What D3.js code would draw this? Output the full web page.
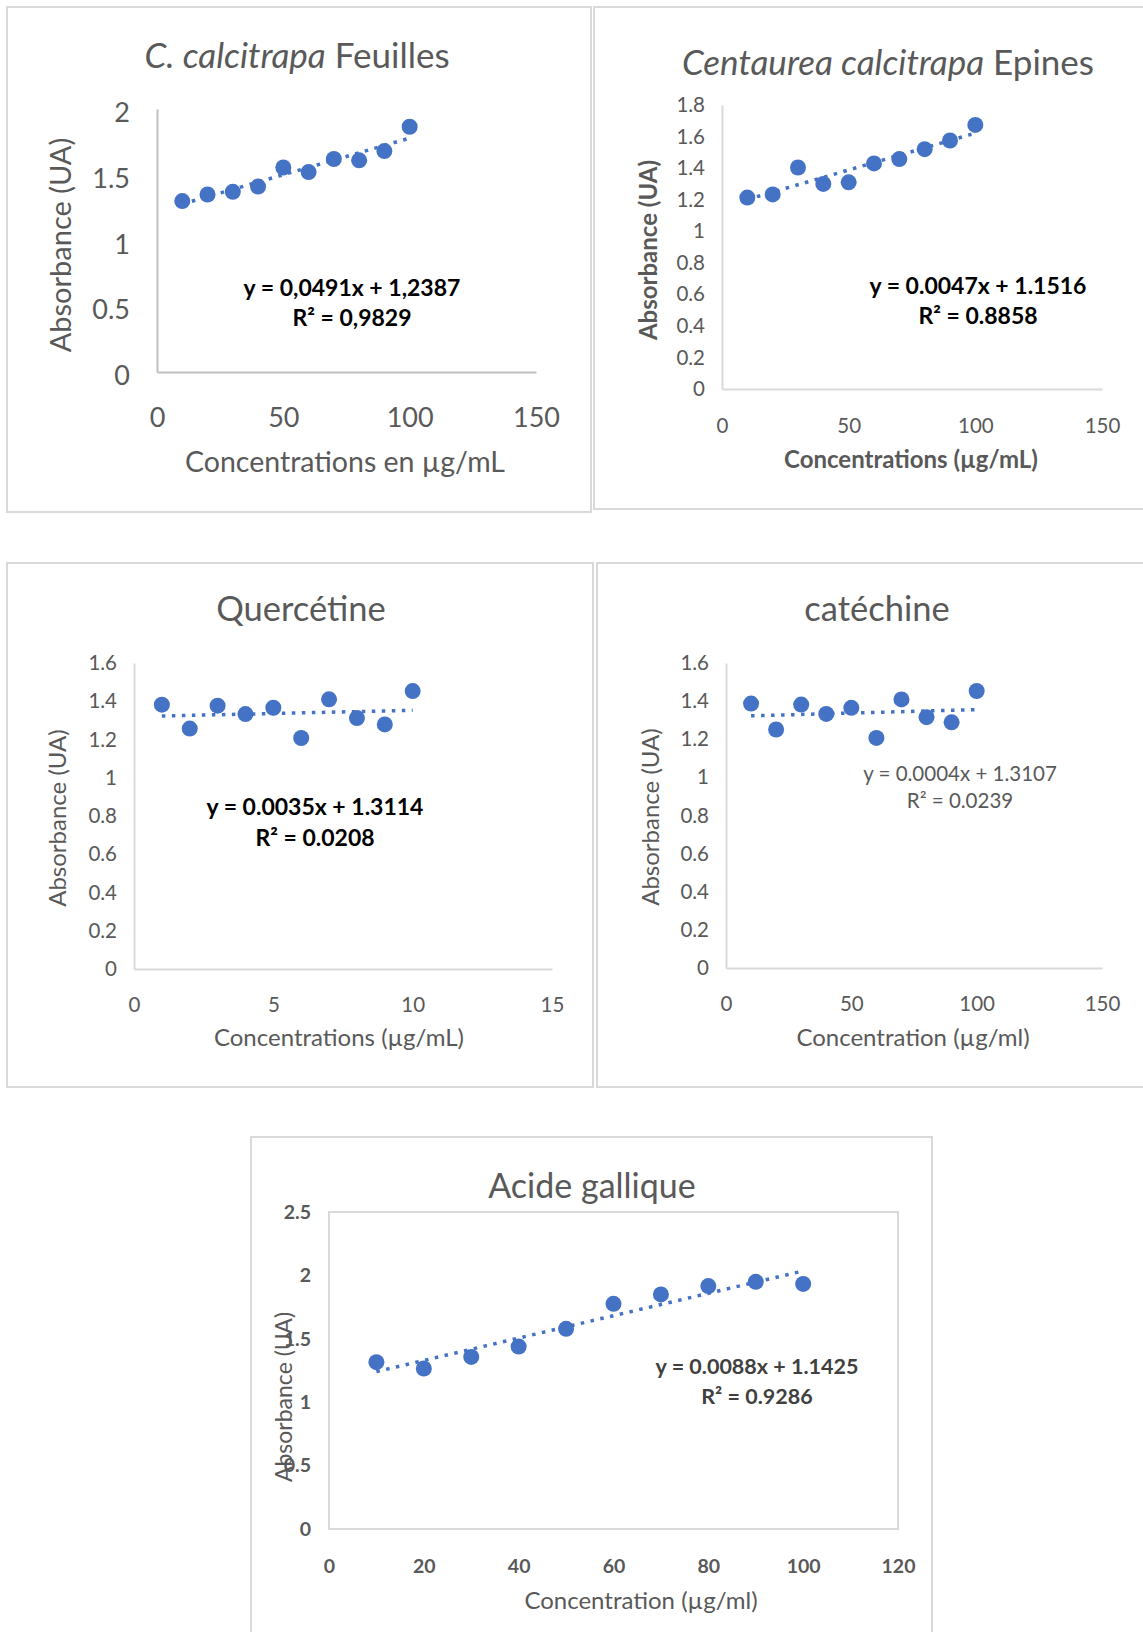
<!DOCTYPE html>
<html><head><meta charset="utf-8">
<script src="https://cdn.jsdelivr.net/npm/d3@7"></script>
<style>
html,body{margin:0;padding:0;background:#fff;}
svg{display:block;}
text{font-family:Lato,"Open Sans",sans-serif;}
</style></head>
<body>
<script>
// ---------- DATA ----------
const feuillesX = [10,20,30,40,50,60,70,80,90,100];
const feuillesY = [1.30,1.35,1.37,1.41,1.555,1.52,1.62,1.61,1.68,1.865];
const feuillesYTicks = [0,0.5,1,1.5,2];
const feuillesXTicks = [0,50,100,150];

const epinesX = [10,20,30,40,50,60,70,80,90,100];
const epinesY = [1.213,1.233,1.404,1.30,1.31,1.43,1.457,1.52,1.575,1.674];
const epinesYTicks = [0,0.2,0.4,0.6,0.8,1,1.2,1.4,1.6,1.8];
const epinesXTicks = [0,50,100,150];

const quercetineX = [1,2,3,4,5,6,7,8,9,10];
const quercetineY = [1.382,1.257,1.377,1.333,1.366,1.208,1.41,1.312,1.279,1.453];
const quercetineYTicks = [0,0.2,0.4,0.6,0.8,1,1.2,1.4,1.6];
const quercetineXTicks = [0,5,10,15];

const catechineX = [10,20,30,40,50,60,70,80,90,100];
const catechineY = [1.387,1.251,1.382,1.333,1.365,1.207,1.409,1.316,1.289,1.453];
const catechineYTicks = [0,0.2,0.4,0.6,0.8,1,1.2,1.4,1.6];
const catechineXTicks = [0,50,100,150];

const galliqueX = [10,20,30,40,50,60,70,80,90,100];
const galliqueY = [1.316,1.266,1.357,1.439,1.579,1.776,1.850,1.916,1.949,1.933];
const galliqueYTicks = [0,0.5,1,1.5,2,2.5];
const galliqueXTicks = [0,20,40,60,80,100,120];

const titles = {
  feuilles: [["C. calcitrapa", true], [" Feuilles", false]],
  epines: [["Centaurea calcitrapa", true], [" Epines", false]],
  quercetine: [["Quercétine", false]],
  catechine: [["catéchine", false]],
  gallique: [["Acide gallique", false]]
};
const xTitles = {
  feuilles: "Concentrations en µg/mL",
  epines: "Concentrations (µg/mL)",
  quercetine: "Concentrations (µg/mL)",
  catechine: "Concentration (µg/ml)",
  gallique: "Concentration (µg/ml)"
};
const yTitle = "Absorbance (UA)";
const equations = {
  feuilles: ["y = 0,0491x + 1,2387", "R² = 0,9829"],
  epines: ["y = 0.0047x + 1.1516", "R² = 0.8858"],
  quercetine: ["y = 0.0035x + 1.3114", "R² = 0.0208"],
  catechine: ["y = 0.0004x + 1.3107", "R² = 0.0239"],
  gallique: ["y = 0.0088x + 1.1425", "R² = 0.9286"]
};

// ---------- DRAW ----------
const svg = d3.select("body").append("svg").attr("width",1143).attr("height",1632);
const BLUE = "#4472C4", GREY = "#595959", BORDER = "#d9d9d9";

function linreg(xs, ys){
  const n = xs.length, mx = d3.mean(xs), my = d3.mean(ys);
  let sxy=0,sxx=0;
  for(let i=0;i<n;i++){ sxy+=(xs[i]-mx)*(ys[i]-my); sxx+=(xs[i]-mx)**2; }
  const b = sxy/sxx; return {b, a: my-b*mx};
}

function panel(o){
  const g = svg.append("g");
  g.append("rect").attr("x",o.box[0]).attr("y",o.box[1]).attr("width",o.box[2]-o.box[0]).attr("height",o.box[3]-o.box[1])
    .attr("fill","#fff").attr("stroke",BORDER).attr("stroke-width",2);
  const x = d3.scaleLinear().domain(d3.extent(o.xTicks)).range([o.plot[0],o.plot[2]]);
  const y = d3.scaleLinear().domain(d3.extent(o.yTicks)).range([o.plot[3],o.plot[1]]);
  if(o.plotBorder){
    g.append("rect").attr("x",o.plot[0]).attr("y",o.plot[1]).attr("width",o.plot[2]-o.plot[0]).attr("height",o.plot[3]-o.plot[1])
      .attr("fill","none").attr("stroke",BORDER).attr("stroke-width",2);
  }
  const xa = g.append("g").attr("transform",`translate(0,${o.plot[3]})`)
    .call(d3.axisBottom(x).tickValues(o.xTicks).tickSize(0).tickPadding(o.xPad).tickFormat(d3.format("")));
  const ya = g.append("g").attr("transform",`translate(${o.plot[0]},0)`)
    .call(d3.axisLeft(y).tickValues(o.yTicks).tickSize(0).tickPadding(o.yPad).tickFormat(d=>String(d)));
  [xa,ya].forEach(a=>{
    a.select(".domain").attr("stroke",o.axisColor||BORDER).attr("stroke-width",2);
    a.selectAll("text").attr("fill",GREY).style("font-size",o.tickSize+"px")
      .style("font-weight",o.tickBold?"bold":"normal").style("font-family","Lato, sans-serif");
  });
  xa.selectAll("text").attr("dy","0.35em");
  if(o.yLabelShift) ya.selectAll("text").attr("y",o.yLabelShift);
  if(o.plotBorder){ xa.select(".domain").remove(); ya.select(".domain").remove(); }
  const t = g.append("text").attr("x",o.title[0]).attr("y",o.title[1]).attr("text-anchor","middle")
    .attr("dominant-baseline","middle").attr("fill",GREY).style("font-size",o.titleSize+"px");
  o.titleParts.forEach(p=>t.append("tspan").text(p[0]).style("font-style",p[1]?"italic":"normal"));
  g.append("text").attr("x",o.xt[0]).attr("y",o.xt[1]).attr("text-anchor","middle").attr("dominant-baseline","middle")
    .attr("fill",GREY).style("font-size",o.xtSize+"px").style("font-weight",o.xtBold?"bold":"normal").text(o.xTitle);
  g.append("text").attr("transform",`translate(${o.yt[0]},${o.yt[1]}) rotate(-90)`).attr("text-anchor","middle")
    .attr("dominant-baseline","middle").attr("fill",GREY).style("font-size",o.ytSize+"px")
    .style("font-weight",o.ytBold?"bold":"normal").text(yTitle);
  const r = linreg(o.xs,o.ys), x0=d3.min(o.xs), x1=d3.max(o.xs);
  g.append("line").attr("x1",x(x0)).attr("y1",y(r.a+r.b*x0)).attr("x2",x(x1)).attr("y2",y(r.a+r.b*x1))
    .attr("stroke",BLUE).attr("stroke-width",3.5).attr("stroke-dasharray","3.5,6.5");
  g.selectAll("circle.pt").data(o.xs.map((v,i)=>[v,o.ys[i]])).join("circle").attr("class","pt")
    .attr("cx",d=>x(d[0])).attr("cy",d=>y(d[1])).attr("r",o.r||8).attr("fill",BLUE);
  o.eq.forEach((line,i)=>{
    g.append("text").attr("x",o.eqPos[0]).attr("y",o.eqPos[1]+i*o.eqGap).attr("text-anchor","middle")
      .attr("dominant-baseline","middle").attr("fill",o.eqColor).style("font-size",o.eqSize+"px")
      .style("font-weight",o.eqBold?"bold":"normal").text(line);
  });
}

panel({box:[7,7,591,512], plot:[157,109,536,372], xTicks:feuillesXTicks, yTicks:feuillesYTicks,
  xs:feuillesX, ys:feuillesY, tickSize:27, xPad:46, yPad:27, axisColor:"#bfbfbf", yLabelShift:4,
  title:[297,59], titleParts:titles.feuilles, titleSize:35,
  xTitle:xTitles.feuilles, xt:[345,465], xtSize:28.5, yt:[64,245], ytSize:29,
  eq:equations.feuilles, eqPos:[352,290], eqGap:30, eqSize:23, eqBold:true, eqColor:"#000"});

panel({box:[594,7,1150,509], plot:[722,105,1102,389], xTicks:epinesXTicks, yTicks:epinesYTicks,
  xs:epinesX, ys:epinesY, tickSize:20.5, xPad:37, yPad:17,
  title:[888,66], titleParts:titles.epines, titleSize:35,
  xTitle:xTitles.epines, xt:[911,462], xtSize:24, xtBold:true, yt:[651,250], ytSize:24, ytBold:true,
  eq:equations.epines, eqPos:[978,288], eqGap:30, eqSize:23, eqBold:true, eqColor:"#000"});

panel({box:[7,563,593,1087], plot:[134,663,552,969], xTicks:quercetineXTicks, yTicks:quercetineYTicks,
  xs:quercetineX, ys:quercetineY, tickSize:20.5, xPad:36, yPad:17,
  title:[301,612], titleParts:titles.quercetine, titleSize:34.5,
  xTitle:xTitles.quercetine, xt:[339,1040], xtSize:24, yt:[60,818], ytSize:24,
  eq:equations.quercetine, eqPos:[315,809], eqGap:31, eqSize:23, eqBold:true, eqColor:"#000"});

panel({box:[597,563,1150,1087], plot:[726,663,1102,968], xTicks:catechineXTicks, yTicks:catechineYTicks,
  xs:catechineX, ys:catechineY, tickSize:20.5, xPad:36, yPad:17,
  title:[877,612], titleParts:titles.catechine, titleSize:34.5,
  xTitle:xTitles.catechine, xt:[913,1040], xtSize:24, yt:[653,817], ytSize:24,
  eq:equations.catechine, eqPos:[960,776], eqGap:27, eqSize:20.5, eqBold:false, eqColor:"#595959"});

panel({box:[251,1137,932,1640], plot:[329,1212,898,1529], xTicks:galliqueXTicks, yTicks:galliqueYTicks,
  xs:galliqueX, ys:galliqueY, tickSize:19.5, xPad:37, yPad:18, tickBold:true, plotBorder:true,
  title:[592,1189], titleParts:titles.gallique, titleSize:34,
  xTitle:xTitles.gallique, xt:[641,1603], xtSize:24, yt:[286,1397], ytSize:23,
  eq:equations.gallique, eqPos:[757,1368], eqGap:30, eqSize:21.5, eqBold:true, eqColor:"#404040"});
</script>
</body></html>
